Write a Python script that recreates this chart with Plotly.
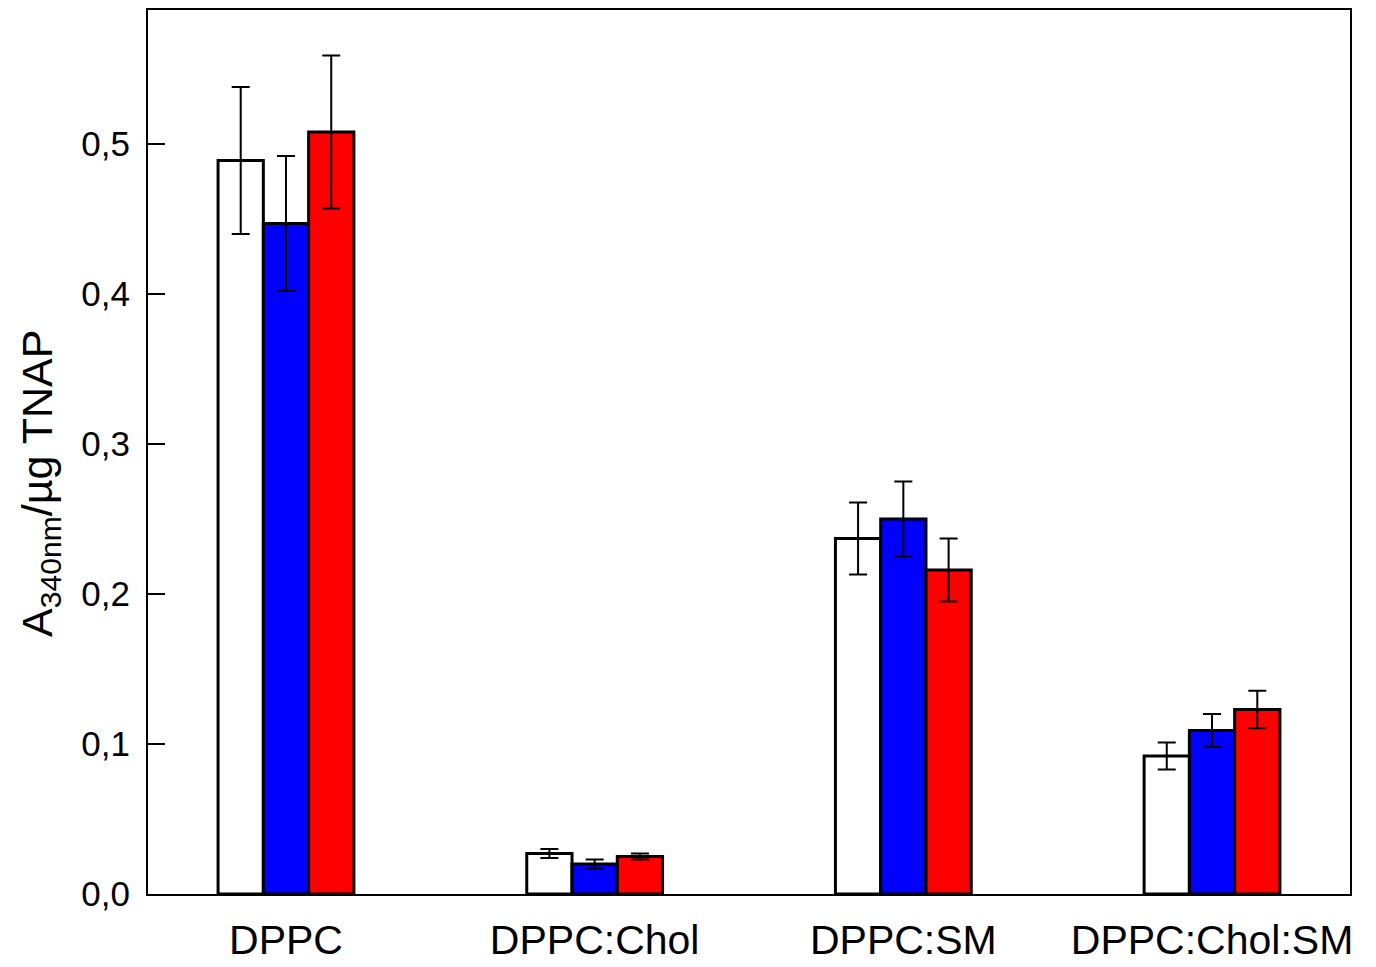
import plotly.graph_objects as go

categories = ["DPPC", "DPPC:Chol", "DPPC:SM", "DPPC:Chol:SM"]
white_vals = [0.489, 0.027, 0.237, 0.092]
white_err = [0.049, 0.003, 0.024, 0.009]
blue_vals = [0.447, 0.020, 0.250, 0.109]
blue_err = [0.045, 0.003, 0.025, 0.011]
red_vals = [0.508, 0.025, 0.216, 0.123]
red_err = [0.051, 0.002, 0.021, 0.0125]
series_colors = ["#FFFFFF", "#0000FF", "#FF0000"]
ytick_vals = [0.0, 0.1, 0.2, 0.3, 0.4, 0.5]
ytick_text = ["0,0", "0,1", "0,2", "0,3", "0,4", "0,5"]
y_title = "A<sub>340nm</sub>/µg TNAP"

fig = go.Figure()
for vals, errs, col in zip([white_vals, blue_vals, red_vals],
                           [white_err, blue_err, red_err], series_colors):
    fig.add_trace(go.Bar(
        x=categories, y=vals,
        marker=dict(color=col, line=dict(color="black", width=3)),
        error_y=dict(type="data", array=errs, visible=True,
                     color="black", thickness=2, width=9),
        showlegend=False,
    ))

# page body has an 8px margin, so the figure is sized to fit inside it
fig.update_layout(
    width=1360, height=951,
    margin=dict(l=140, r=18, t=2, b=65),
    paper_bgcolor="white", plot_bgcolor="white",
    barmode="group", bargap=0.56, bargroupgap=0,
    font=dict(family="Arial, Liberation Sans, sans-serif", color="black"),
)
fig.add_annotation(
    text=y_title, textangle=-90, showarrow=False,
    xref="paper", yref="paper", x=-0.0899, y=0.465,
    xanchor="center", yanchor="middle", font=dict(size=43),
)
fig.update_xaxes(
    range=[-0.447, 3.447], automargin=False,
    showline=True, linecolor="black", linewidth=2, mirror=True,
    ticks="", tickfont=dict(size=41), ticklabelstandoff=9,
)
fig.update_yaxes(
    range=[0, 0.5893], automargin=False,
    tickvals=ytick_vals, ticktext=ytick_text,
    showline=True, linecolor="black", linewidth=2, mirror=True,
    ticks="inside", ticklen=17, tickwidth=2, tickcolor="black",
    tickfont=dict(size=35), showgrid=False, zeroline=False,
    ticklabelstandoff=9,
)

fig.write_html("out.html")
